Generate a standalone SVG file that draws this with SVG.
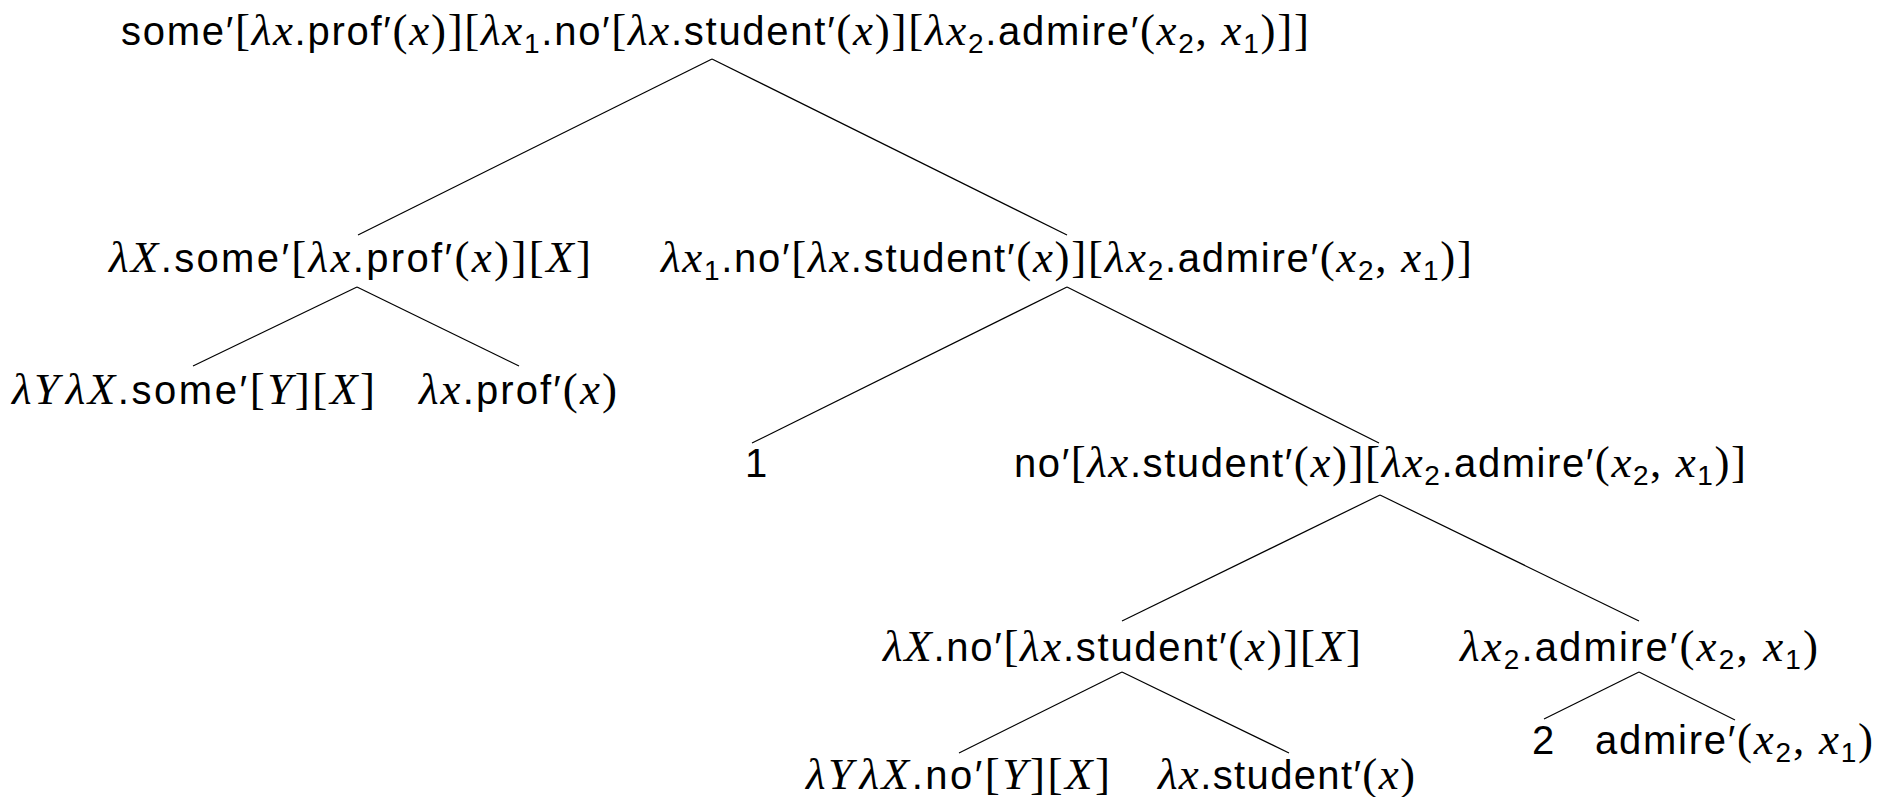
<svg xmlns="http://www.w3.org/2000/svg" width="1892" height="797" viewBox="0 0 1892 797">
<style>
text { font-family: "Liberation Sans", Arial, sans-serif; font-size: 40px; fill: #000; }
.m { font-family: "Liberation Serif", "Times New Roman", serif; font-style: italic; font-size: 45px; }
.r { font-family: "Liberation Serif", "Times New Roman", serif; font-size: 45px; }
.b { font-size: 28px; }
.edges line { stroke: #000; stroke-width: 1.2; }
</style>
<rect width="1892" height="797" fill="#fff"/>
<g class="edges" id="connectors">
<line x1="712" y1="59" x2="358" y2="235"/>
<line x1="712" y1="59" x2="1067" y2="235"/>
<line x1="357" y1="287" x2="193" y2="366"/>
<line x1="357" y1="287" x2="519" y2="366"/>
<line x1="1067" y1="287" x2="752" y2="443"/>
<line x1="1067" y1="287" x2="1379" y2="443"/>
<line x1="1380" y1="495" x2="1122" y2="621"/>
<line x1="1380" y1="495" x2="1639" y2="621"/>
<line x1="1122" y1="672" x2="959" y2="753"/>
<line x1="1122" y1="672" x2="1289" y2="753"/>
<line x1="1639" y1="672" x2="1544" y2="719"/>
<line x1="1639" y1="672" x2="1735" y2="720"/>
</g>
<g id="n-root"><text x="121" y="45" textLength="1188" lengthAdjust="spacing">some′<tspan class="r">[</tspan><tspan class="m">λx</tspan>.prof′<tspan class="r">(</tspan><tspan class="m">x</tspan><tspan class="r">)][</tspan><tspan class="m">λx</tspan><tspan class="b" dy="8">1</tspan><tspan dy="-8">.no′</tspan><tspan class="r">[</tspan><tspan class="m">λx</tspan>.student′<tspan class="r">(</tspan><tspan class="m">x</tspan><tspan class="r">)][</tspan><tspan class="m">λx</tspan><tspan class="b" dy="8">2</tspan><tspan dy="-8">.admire′</tspan><tspan class="r">(</tspan><tspan class="m">x</tspan><tspan class="b" dy="8">2</tspan><tspan class="r" dy="-8">, </tspan><tspan class="m">x</tspan><tspan class="b" dy="8">1</tspan><tspan class="r" dy="-8">)]]</tspan></text></g>
<g id="n-some"><text x="109" y="272" textLength="482" lengthAdjust="spacing"><tspan class="m">λX</tspan>.some′<tspan class="r">[</tspan><tspan class="m">λx</tspan>.prof′<tspan class="r">(</tspan><tspan class="m">x</tspan><tspan class="r">)][</tspan><tspan class="m">X</tspan><tspan class="r">]</tspan></text></g>
<g id="n-lx1"><text x="661" y="272" textLength="811" lengthAdjust="spacing"><tspan class="m">λx</tspan><tspan class="b" dy="8">1</tspan><tspan dy="-8">.no′</tspan><tspan class="r">[</tspan><tspan class="m">λx</tspan>.student′<tspan class="r">(</tspan><tspan class="m">x</tspan><tspan class="r">)][</tspan><tspan class="m">λx</tspan><tspan class="b" dy="8">2</tspan><tspan dy="-8">.admire′</tspan><tspan class="r">(</tspan><tspan class="m">x</tspan><tspan class="b" dy="8">2</tspan><tspan class="r" dy="-8">, </tspan><tspan class="m">x</tspan><tspan class="b" dy="8">1</tspan><tspan class="r" dy="-8">)]</tspan></text></g>
<g id="n-somedet"><text x="12" y="404" textLength="363" lengthAdjust="spacing"><tspan class="m">λY</tspan><tspan class="m" dx="4">λX</tspan>.some′<tspan class="r">[</tspan><tspan class="m">Y</tspan><tspan class="r">][</tspan><tspan class="m">X</tspan><tspan class="r">]</tspan></text></g>
<g id="n-prof"><text x="419" y="404" textLength="198" lengthAdjust="spacing"><tspan class="m">λx</tspan>.prof′<tspan class="r">(</tspan><tspan class="m">x</tspan><tspan class="r">)</tspan></text></g>
<g id="n-1"><text x="745" y="477">1</text></g>
<g id="n-no"><text x="1014" y="477" textLength="732" lengthAdjust="spacing">no′<tspan class="r">[</tspan><tspan class="m">λx</tspan>.student′<tspan class="r">(</tspan><tspan class="m">x</tspan><tspan class="r">)][</tspan><tspan class="m">λx</tspan><tspan class="b" dy="8">2</tspan><tspan dy="-8">.admire′</tspan><tspan class="r">(</tspan><tspan class="m">x</tspan><tspan class="b" dy="8">2</tspan><tspan class="r" dy="-8">, </tspan><tspan class="m">x</tspan><tspan class="b" dy="8">1</tspan><tspan class="r" dy="-8">)]</tspan></text></g>
<g id="n-lXno"><text x="883" y="661" textLength="478" lengthAdjust="spacing"><tspan class="m">λX</tspan>.no′<tspan class="r">[</tspan><tspan class="m">λx</tspan>.student′<tspan class="r">(</tspan><tspan class="m">x</tspan><tspan class="r">)][</tspan><tspan class="m">X</tspan><tspan class="r">]</tspan></text></g>
<g id="n-lx2"><text x="1460" y="661" textLength="358" lengthAdjust="spacing"><tspan class="m">λx</tspan><tspan class="b" dy="8">2</tspan><tspan dy="-8">.admire′</tspan><tspan class="r">(</tspan><tspan class="m">x</tspan><tspan class="b" dy="8">2</tspan><tspan class="r" dy="-8">, </tspan><tspan class="m">x</tspan><tspan class="b" dy="8">1</tspan><tspan class="r" dy="-8">)</tspan></text></g>
<g id="n-nodet"><text x="806" y="789" textLength="304" lengthAdjust="spacing"><tspan class="m">λY</tspan><tspan class="m" dx="4">λX</tspan>.no′<tspan class="r">[</tspan><tspan class="m">Y</tspan><tspan class="r">][</tspan><tspan class="m">X</tspan><tspan class="r">]</tspan></text></g>
<g id="n-student"><text x="1158" y="789" textLength="257" lengthAdjust="spacing"><tspan class="m">λx</tspan>.student′<tspan class="r">(</tspan><tspan class="m">x</tspan><tspan class="r">)</tspan></text></g>
<g id="n-2"><text x="1532" y="754">2</text></g>
<g id="n-admire"><text x="1595" y="754" textLength="278" lengthAdjust="spacing">admire′<tspan class="r">(</tspan><tspan class="m">x</tspan><tspan class="b" dy="8">2</tspan><tspan class="r" dy="-8">, </tspan><tspan class="m">x</tspan><tspan class="b" dy="8">1</tspan><tspan class="r" dy="-8">)</tspan></text></g>
</svg>
